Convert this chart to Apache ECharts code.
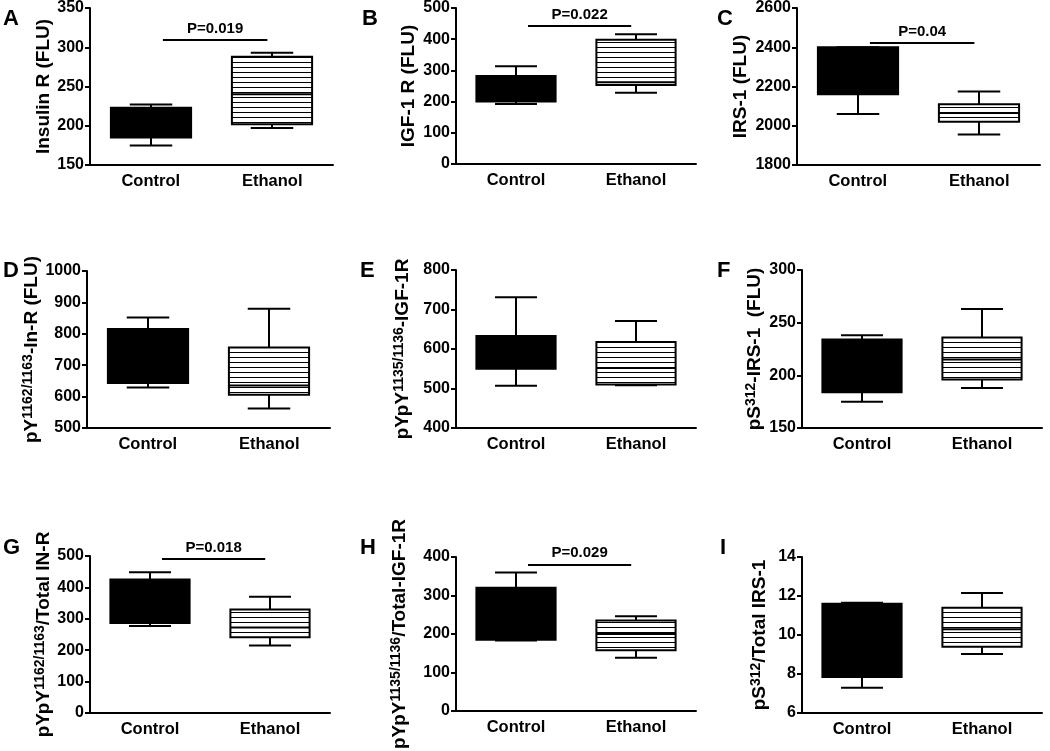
<!DOCTYPE html>
<html><head><meta charset="utf-8">
<script src="https://cdn.jsdelivr.net/npm/echarts@6/dist/echarts.min.js"></script>
<style>html,body{margin:0;padding:0;background:#fff}#c{width:1050px;height:751px}</style>
</head><body><div id="c"></div><script>
// ---------- data ----------
const categories = ['Control', 'Ethanol'];
// each box: [min, Q1, median, Q3, max]
const insulinR = [[175, 185, 200, 223, 227], [197, 202, 240, 288, 293]];
const igf1R = [[192, 200, 240, 282, 313], [228, 253, 262, 398, 416]];
const irs1 = [[2060, 2160, 2330, 2400, 2400], [1955, 2020, 2065, 2110, 2175]];
const pYInR = [[629, 643, 700, 815, 852], [562, 606, 635, 756, 880]];
const pYpYIGF1R = [[507, 550, 590, 633, 731], [508, 510, 552, 618, 671]];
const pSIRS1 = [[175, 184, 210, 234, 238], [188, 196, 215, 236, 263]];
const ratioInR = [[277, 287, 385, 425, 448], [215, 241, 272, 330, 370]];
const ratioIGF1R = [[183, 185, 270, 320, 360], [138, 158, 200, 235, 246]];
const ratioIRS1 = [[7.3, 7.85, 9.3, 11.6, 11.65], [9.03, 9.4, 10.3, 11.4, 12.15]];
// y axis ticks: [min, max, interval]
const ticksA = [150, 350, 50];
const ticksB = [0, 500, 100];
const ticksC = [1800, 2600, 200];
const ticksD = [500, 1000, 100];
const ticksE = [400, 800, 100];
const ticksF = [150, 300, 50];
const ticksG = [0, 500, 100];
const ticksH = [0, 400, 100];
const ticksI = [6, 14, 2];
// significance brackets: [value, label]
const pA = [309, 'P=0.019'];
const pB = [442, 'P=0.022'];
const pC = [2422, 'P=0.04'];
const pG = [490, 'P=0.018'];
const pH = [380, 'P=0.029'];
const letters = ['A', 'B', 'C', 'D', 'E', 'F', 'G', 'H', 'I'];
const yNames = [
  'Insulin R (FLU)',
  'IGF-1 R (FLU)',
  'IRS-1 (FLU)',
  'pY{sup|1162/1163}-In-R (FLU)',
  'pYpY{sup|1135/1136}-IGF-1R',
  'pS{sup|312}-IRS-1  (FLU)',
  'pYpY{sup|1162/1163}/Total IN-R',
  'pYpY{sup|1135/1136}/Total-IGF-1R',
  'pS{sup|312}/Total IRS-1'
];

// ---------- layout ----------
const FONT = '"Liberation Sans", Arial, sans-serif';
const panels = [
  {data: insulinR, ticks: ticksA, p: pA, grid: {left: 90, top: 8, width: 243, height: 157}, letter: [3, 8], gap: 37},
  {data: igf1R, ticks: ticksB, p: pB, grid: {left: 456, top: 8, width: 240, height: 156}, letter: [362, 8], gap: 38},
  {data: irs1, ticks: ticksC, p: pC, grid: {left: 797, top: 7, width: 243, height: 158}, letter: [717, 8], gap: 47},
  {data: pYInR, ticks: ticksD, p: null, grid: {left: 87, top: 271, width: 243, height: 157}, letter: [3, 260], gap: 40},
  {data: pYpYIGF1R, ticks: ticksE, p: null, grid: {left: 456, top: 270, width: 240, height: 158}, letter: [360, 260], gap: 43},
  {data: pSIRS1, ticks: ticksF, p: null, grid: {left: 802, top: 270, width: 240, height: 158}, letter: [717, 260], gap: 37},
  {data: ratioInR, ticks: ticksG, p: pG, grid: {left: 90, top: 556, width: 240, height: 157}, letter: [3, 537], gap: 35},
  {data: ratioIGF1R, ticks: ticksH, p: pH, grid: {left: 456, top: 557, width: 240, height: 156}, letter: [360, 537], gap: 46},
  {data: ratioIRS1, ticks: ticksI, p: null, grid: {left: 802, top: 557, width: 240, height: 156}, letter: [720, 537], gap: 32}
];

// stripe pattern
const pc = document.createElement('canvas');
pc.width = 8; pc.height = 5;
const g2 = pc.getContext('2d');
g2.fillStyle = '#fff'; g2.fillRect(0, 0, 8, 5);
g2.fillStyle = '#000'; g2.fillRect(0, 2, 8, 1);
const stripe = {image: pc, repeat: 'repeat'};

function renderBox(params, api) {
  const idx = api.value(0);
  const pMin = api.coord([idx, api.value(1)]);
  const pQ1 = api.coord([idx, api.value(2)]);
  const pMed = api.coord([idx, api.value(3)]);
  const pQ3 = api.coord([idx, api.value(4)]);
  const pMax = api.coord([idx, api.value(5)]);
  const bw = api.size([1, 0])[0] * 0.66;
  const cw = bw * 0.53;
  const x = Math.round(pMin[0]);
  const ls = {stroke: '#000', lineWidth: 2};
  return {
    type: 'group',
    children: [
      {type: 'line', shape: {x1: x, y1: pMax[1], x2: x, y2: pQ3[1]}, style: ls},
      {type: 'line', shape: {x1: x, y1: pQ1[1], x2: x, y2: pMin[1]}, style: ls},
      {type: 'line', shape: {x1: x - cw / 2, y1: pMax[1], x2: x + cw / 2, y2: pMax[1]}, style: ls},
      {type: 'line', shape: {x1: x - cw / 2, y1: pMin[1], x2: x + cw / 2, y2: pMin[1]}, style: ls},
      {type: 'rect', shape: {x: x - bw / 2, y: pQ3[1], width: bw, height: pQ1[1] - pQ3[1]},
        style: {fill: idx === 0 ? '#000' : stripe, stroke: '#000', lineWidth: 2}},
      {type: 'line', shape: {x1: x - bw / 2, y1: pMed[1], x2: x + bw / 2, y2: pMed[1]}, style: ls}
    ]
  };
}

const grids = [], xAxes = [], yAxes = [], series = [], titles = [];
panels.forEach((pn, i) => {
  grids.push(pn.grid);
  xAxes.push({
    type: 'category', gridIndex: i, data: categories, boundaryGap: true,
    axisLine: {onZero: false, lineStyle: {color: '#000', width: 2}},
    axisTick: {alignWithLabel: true, length: 5, lineStyle: {color: '#000', width: 2}},
    axisLabel: {color: '#000', fontFamily: FONT, fontWeight: 'bold', fontSize: 16.5, margin: 8}
  });
  xAxes.push({type: 'value', gridIndex: i, min: -0.5, max: 1.5, show: false});
  yAxes.push({
    type: 'value', gridIndex: i, min: pn.ticks[0], max: pn.ticks[1], interval: pn.ticks[2],
    splitLine: {show: false},
    axisLine: {show: true, onZero: false, lineStyle: {color: '#000', width: 2}},
    axisTick: {show: true, length: 5, lineStyle: {color: '#000', width: 2}},
    axisLabel: {color: '#000', fontFamily: FONT, fontWeight: 'bold', fontSize: 16, margin: 6,
      formatter: v => String(v)},
    name: yNames[i], nameLocation: 'middle', nameGap: pn.gap,
    nameTextStyle: {color: '#000', fontFamily: FONT, fontWeight: 'bold', fontSize: 19,
      rich: {sup: {fontFamily: FONT, fontWeight: 'bold', fontSize: 14, verticalAlign: 'top', padding: [0, 0, 7, 0]}}}
  });
  series.push({
    type: 'custom', xAxisIndex: 2 * i, yAxisIndex: i,
    renderItem: renderBox,
    encode: {x: 0, y: [1, 2, 3, 4, 5]},
    data: pn.data.map((d, k) => [k].concat(d)),
    silent: true
  });
  if (pn.p) {
    series.push({
      type: 'line', xAxisIndex: 2 * i + 1, yAxisIndex: i, data: [], silent: true,
      markLine: {
        symbol: 'none', silent: true, animation: false,
        lineStyle: {color: '#000', width: 2, type: 'solid'},
        label: {show: true, position: 'middle', formatter: pn.p[1], color: '#000',
          fontFamily: FONT, fontWeight: 'bold', fontSize: 15, distance: 4},
        data: [[{coord: [0.1, pn.p[0]]}, {coord: [0.96, pn.p[0]]}]]
      }
    });
  }
  titles.push({text: letters[i], left: pn.letter[0], top: pn.letter[1], padding: 0,
    textStyle: {color: '#000', fontFamily: FONT, fontWeight: 'bold', fontSize: 22}});
});

const chart = echarts.init(document.getElementById('c'), null, {renderer: 'canvas'});
chart.setOption({
  animation: false,
  backgroundColor: '#fff',
  title: titles,
  grid: grids,
  xAxis: xAxes,
  yAxis: yAxes,
  series: series
});
</script></body></html>
